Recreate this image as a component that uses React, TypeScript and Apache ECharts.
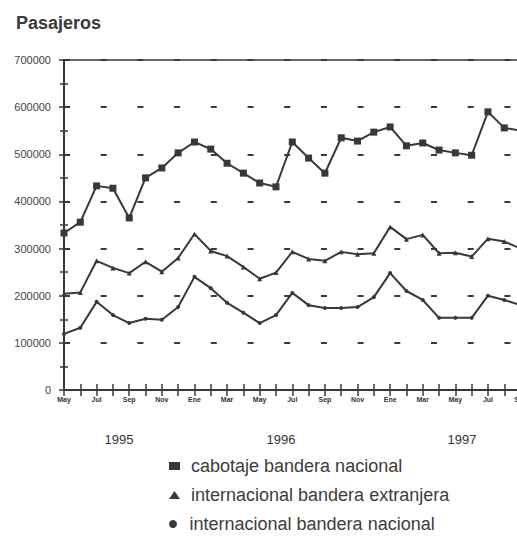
import React, { useEffect, useRef } from "react";
import * as echarts from "echarts";

const months = [
  "May", "Jun", "Jul", "Ago", "Sep", "Oct", "Nov", "Dic",
  "Ene", "Feb", "Mar", "Abr", "May", "Jun", "Jul", "Ago", "Sep", "Oct", "Nov", "Dic",
  "Ene", "Feb", "Mar", "Abr", "May", "Jun", "Jul", "Ago", "Sep",
];

const cabotajeNacional = [
  333000, 356000, 433000, 428000, 365000, 450000, 471000, 503000,
  526000, 511000, 481000, 460000, 439000, 431000, 526000, 492000, 460000, 535000, 528000, 547000,
  558000, 518000, 524000, 509000, 503000, 498000, 590000, 556000, 550000,
];

const internacionalExtranjera = [
  204000, 207000, 274000, 259000, 248000, 272000, 251000, 280000,
  331000, 295000, 284000, 261000, 236000, 249000, 293000, 278000, 274000, 293000, 288000, 290000,
  346000, 320000, 329000, 290000, 291000, 283000, 321000, 315000, 300000,
];

const internacionalNacional = [
  119000, 132000, 187000, 159000, 142000, 151000, 149000, 176000,
  240000, 216000, 185000, 164000, 142000, 159000, 206000, 180000, 174000, 174000, 176000, 197000,
  248000, 210000, 191000, 153000, 153000, 153000, 200000, 191000, 180000,
];

const seriesNames = [
  "cabotaje bandera nacional",
  "internacional bandera extranjera",
  "internacional bandera nacional",
];

const legendIcons = ["rect", "triangle", "circle"];

const yearLabels = ["1995", "1996", "1997"];

export default function App() {
  const ref = useRef<HTMLDivElement>(null);

  useEffect(() => {
    if (!ref.current) return;
    const chart = echarts.init(ref.current, null, { renderer: "svg" });
    const ink = "#383838";
    const font = "Liberation Sans, Arial, sans-serif";
    const yearX = [119, 281, 462];
    const legendTop = [452, 481, 510];
    chart.setOption({
      animation: false,
      backgroundColor: "#ffffff",
      textStyle: { fontFamily: font },
      title: {
        text: "Pasajeros",
        left: 11,
        top: 9,
        textStyle: { fontSize: 18, fontWeight: "bold", color: "#3a3a3a", fontFamily: font },
      },
      grid: {
        left: 64,
        top: 60,
        right: 8,
        bottom: 150,
        show: true,
        borderColor: ink,
        borderWidth: 1.5,
      },
      legend: seriesNames.map((n, i) => ({
        orient: "vertical",
        left: 164,
        top: legendTop[i],
        itemWidth: 11,
        itemHeight: 8,
        textStyle: { fontSize: 18, color: "#3c3c3c", fontFamily: font, padding: [0, 0, 0, 6] },
        data: [{ name: n, icon: legendIcons[i] }],
      })),
      xAxis: [
        {
          type: "category",
          data: months,
          boundaryGap: false,
          position: "bottom",
          axisLine: { show: true, lineStyle: { color: ink, width: 2 } },
          axisTick: { show: true, interval: 0, length: 6, lineStyle: { color: ink, width: 1.5 } },
          axisLabel: {
            interval: 1,
            fontSize: 7,
            fontWeight: "bold",
            color: "#333",
            margin: 6,
            fontFamily: font,
          },
          splitLine: { show: false },
        },
        {
          type: "category",
          data: months,
          boundaryGap: false,
          position: "bottom",
          axisLine: { show: false },
          axisTick: { show: true, inside: true, interval: 0, length: 6, lineStyle: { color: ink, width: 1.5 } },
          axisLabel: { show: false },
          splitLine: { show: false },
        },
      ],
      yAxis: [
        {
          type: "value",
          min: 0,
          max: 700000,
          interval: 100000,
          axisLine: { show: true, lineStyle: { color: ink, width: 2 } },
          axisTick: { show: true, length: 5, lineStyle: { color: ink, width: 1.5 } },
          minorTick: { show: true, splitNumber: 2, length: 4, lineStyle: { color: ink, width: 1.5 } },
          axisLabel: {
            fontSize: 11,
            color: "#444",
            margin: 13,
            fontFamily: font,
            formatter: (v: number) => String(v),
          },
          splitLine: {
            show: true,
            lineStyle: { color: "#3a3a3a", width: 2, type: [6, 30.7] },
          },
        },
        {
          type: "value",
          min: 0,
          max: 700000,
          interval: 100000,
          position: "left",
          axisLine: { show: false },
          axisTick: { show: true, inside: true, length: 5, lineStyle: { color: ink, width: 1.5 } },
          minorTick: { show: true, splitNumber: 2, length: 4, lineStyle: { color: ink, width: 1.5 } },
          axisLabel: { show: false },
          splitLine: { show: false },
        },
      ],
      graphic: yearLabels.map((t, i) => ({
        type: "text",
        x: yearX[i],
        y: 439,
        style: {
          text: t,
          fontSize: 13,
          fill: "#333",
          fontFamily: font,
          align: "center",
          verticalAlign: "middle",
        },
      })),
      series: [
        {
          name: seriesNames[0],
          type: "line",
          data: cabotajeNacional,
          symbol: "rect",
          symbolSize: 7,
          showAllSymbol: true,
          lineStyle: { color: ink, width: 2 },
          itemStyle: { color: ink },
        },
        {
          name: seriesNames[1],
          type: "line",
          data: internacionalExtranjera,
          symbol: "triangle",
          symbolSize: 5,
          showAllSymbol: true,
          lineStyle: { color: ink, width: 2 },
          itemStyle: { color: ink },
        },
        {
          name: seriesNames[2],
          type: "line",
          data: internacionalNacional,
          symbol: "circle",
          symbolSize: 4,
          showAllSymbol: true,
          lineStyle: { color: ink, width: 2 },
          itemStyle: { color: ink },
        },
      ],
    });
    return () => chart.dispose();
  }, []);

  return (
    <div
      style={{
        position: "absolute",
        left: 0,
        top: 0,
        width: 517,
        height: 540,
        overflow: "hidden",
        background: "#fff",
      }}
    >
      <div ref={ref} style={{ width: 530, height: 540 }} />
    </div>
  );
}
